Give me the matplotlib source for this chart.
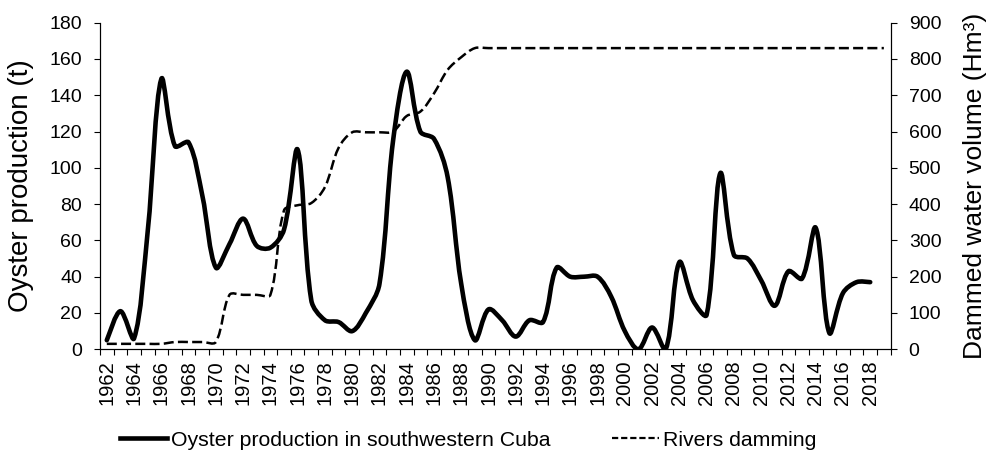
import numpy as np
import matplotlib
matplotlib.use("Agg")
import matplotlib.pyplot as plt
from matplotlib.path import Path
from matplotlib.patches import PathPatch
from matplotlib.lines import Line2D

plt.rcParams['font.family'] = ['Liberation Sans', 'DejaVu Sans']

# oyster production (t), 1962-2018
oyster_years = np.arange(1962, 2019)
oyster = [5, 21, 6, 65, 149, 112, 114, 85, 45, 58,
          72, 57, 56, 66, 110, 27, 16, 15, 10, 20,
          36, 115, 153, 120, 116, 95, 36, 5, 22, 16,
          7, 16, 15, 45, 40, 40, 40, 29, 10, 0,
          12, 0, 48, 27, 19, 97, 52, 50, 38, 24,
          43, 39, 67, 9, 31, 37, 37]

# dammed water volume (Hm3), 1962-2019
dam_years = np.arange(1962, 2020)
dam = [15, 15, 15, 15, 15, 20, 20, 20, 20, 150,
       150, 150, 150, 383, 397, 403, 447, 555, 598, 598,
       598, 600, 643, 655, 705, 770, 805, 830, 830, 830,
       830, 830, 830, 830, 830, 830, 830, 830, 830, 830,
       830, 830, 830, 830, 830, 830, 830, 830, 830, 830,
       830, 830, 830, 830, 830, 830, 830, 830]

year_labels = np.arange(1962, 2019, 2)
left_ticks = np.arange(0, 181, 20)
right_ticks = np.arange(0, 901, 100)


def smooth_path(a, x, y):
    # excel-like smoothed line, built in pixel space so the bends
    # do not overshoot where neighbouring segments differ a lot
    trans = a.transData
    pts = trans.transform(np.column_stack([x, y]).astype(float))
    n = len(pts)
    seg = np.hypot(*np.diff(pts, axis=0).T)
    verts = [pts[0]]
    codes = [Path.MOVETO]
    for i in range(n - 1):
        p0 = pts[i - 1] if i > 0 else pts[i]
        p1 = pts[i]
        p2 = pts[i + 1]
        p3 = pts[i + 2] if i + 2 < n else pts[i + 1]
        d01 = seg[i - 1] if i > 0 else seg[i]
        d12 = seg[i]
        d23 = seg[i + 1] if i + 2 < n else seg[i]
        c1 = p1 + (p2 - p0) * d12 / (d01 + d12) / 3
        c2 = p2 - (p3 - p1) * d12 / (d12 + d23) / 3
        verts += [c1, c2, p2]
        codes += [Path.CURVE4] * 3
    verts = trans.inverted().transform(np.array(verts))
    return Path(verts, codes)


fig = plt.figure(figsize=(9.87, 4.57), dpi=100)
ax = fig.add_axes([0.1013, 0.2357, 0.8011, 0.7146])
ax2 = ax.twinx()

ax.set_xlim(1961.5, 2019.5)
ax.set_ylim(0, 180)
ax2.set_ylim(0, 900)

ax.add_patch(PathPatch(smooth_path(ax, oyster_years, oyster), fill=False,
                       ec='black', lw=3.3, capstyle='round', joinstyle='round'))
ax2.add_patch(PathPatch(smooth_path(ax2, dam_years, dam), fill=False,
                        ec='black', lw=1.8, linestyle=(0, (4, 1.7))))

ax.set_xticks(year_labels)
ax.set_xticklabels([str(y) for y in year_labels], rotation=90, fontsize=14.5)
ax.set_xticks(np.arange(1961.5, 2020, 1), minor=True)
ax.tick_params(axis='x', which='major', length=0, pad=8)
ax.tick_params(axis='x', which='minor', length=4, width=0.8, direction='out')

ax.set_yticks(left_ticks)
ax.tick_params(axis='y', labelsize=14, length=4, width=0.8, pad=9)
ax2.set_yticks(right_ticks)
ax2.tick_params(axis='y', labelsize=14, length=4, width=0.8, pad=9)

for a in (ax, ax2):
    a.spines['top'].set_visible(False)
    for s in a.spines.values():
        s.set_linewidth(0.8)

ax.set_ylabel('Oyster production (t)', fontsize=20)
ax.yaxis.set_label_coords(-0.084, 0.5)
ax2.set_ylabel('Dammed water volume (Hm³)', fontsize=19)
ax2.yaxis.set_label_coords(1.092, 0.5)

handles = [Line2D([], [], color='black', lw=3.3),
           Line2D([], [], color='black', lw=1.6, dashes=(2.8, 1.3))]
fig.legend(handles, ['Oyster production in southwestern Cuba', 'Rivers damming'],
           ncol=2, loc='center', bbox_to_anchor=(0.4747, 0.037), frameon=False,
           fontsize=15.3, handlelength=2.2, handletextpad=0.2, columnspacing=2.9)

fig.savefig('out.png', dpi=100)
